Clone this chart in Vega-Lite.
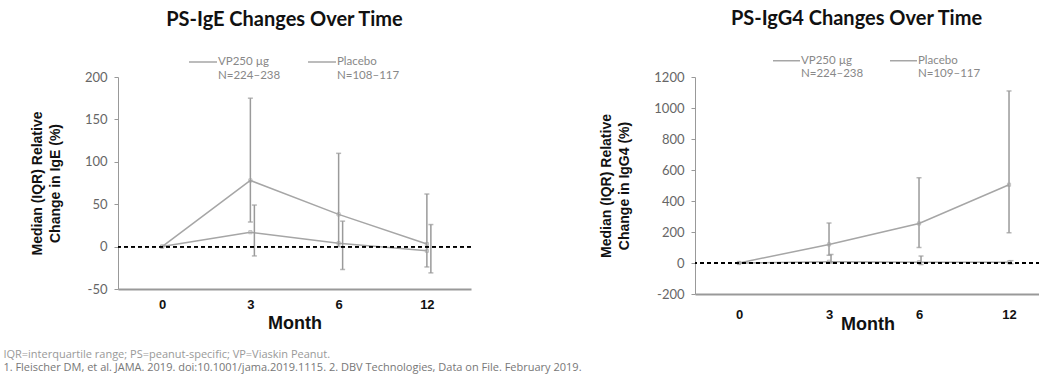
{
  "$schema": "https://vega.github.io/schema/vega-lite/v6.json",
  "padding": {"left": 3, "top": 9, "right": 0, "bottom": 2},
  "background": "white",
  "title": {
    "text": "IQR=interquartile range; PS=peanut-specific; VP=Viaskin Peanut.",
    "subtitle": "1. Fleischer DM, et al. JAMA. 2019. doi:10.1001/jama.2019.1115. 2. DBV Technologies, Data on File. February 2019.",
    "orient": "bottom", "anchor": "start", "dx": -27, "font": "Open Sans", "fontSize": 11, "fontWeight": "normal", "color": "#999",
    "subtitleFont": "Open Sans", "subtitleFontSize": 11, "subtitleColor": "#777", "subtitlePadding": 2, "offset": 16
  },
  "datasets": {
    "ige": [
      {"month": 0, "series": "VP250 µg", "median": 0, "lo": null, "hi": null},
      {"month": 3, "series": "VP250 µg", "median": 78, "lo": 29, "hi": 175},
      {"month": 6, "series": "VP250 µg", "median": 38, "lo": 0, "hi": 110},
      {"month": 12, "series": "VP250 µg", "median": 3, "lo": -24, "hi": 62},
      {"month": 0, "series": "Placebo", "median": 0, "lo": null, "hi": null},
      {"month": 3, "series": "Placebo", "median": 17, "lo": -11, "hi": 49},
      {"month": 6, "series": "Placebo", "median": 4, "lo": -27, "hi": 30},
      {"month": 12, "series": "Placebo", "median": -5, "lo": -31, "hi": 26}
    ],
    "igg4": [
      {"month": 0, "series": "VP250 µg", "median": 0, "lo": null, "hi": null},
      {"month": 3, "series": "VP250 µg", "median": 120, "lo": 50, "hi": 258},
      {"month": 6, "series": "VP250 µg", "median": 255, "lo": 100, "hi": 550},
      {"month": 12, "series": "VP250 µg", "median": 505, "lo": 195, "hi": 1110},
      {"month": 0, "series": "Placebo", "median": 0, "lo": null, "hi": null},
      {"month": 3, "series": "Placebo", "median": 8, "lo": 0, "hi": 55},
      {"month": 6, "series": "Placebo", "median": 5, "lo": -10, "hi": 45},
      {"month": 12, "series": "Placebo", "median": 5, "lo": -5, "hi": 15}
    ]
  },
  "config": {
    "view": {"stroke": null},
    "axis": {"grid": false},
    "axisY": {"labelOverlap": false},
    "title": {"font": "Lato", "fontSize": 20, "fontWeight": "bold", "color": "#111"}
  },
  "resolve": {"scale": {"color": "independent"}, "legend": {"color": "independent"}},
  "spacing": 127,
  "hconcat": [
    {
      "width": 353, "height": 212,
      "title": {"text": "PS-IgE Changes Over Time", "offset": 17, "dx": -10},
      "data": {"name": "ige"},
      "layer": [
        {
          "mark": {"type": "line", "strokeWidth": 1.5},
          "encoding": {
            "x": {"field": "month", "type": "ordinal", "scale": {"type": "point", "padding": 0.5},
              "axis": {"title": "Month", "titleFont": "Liberation Sans", "titleFontSize": 18, "titleFontWeight": "bold", "titleColor": "#111", "titlePadding": 3,
                "labelFont": "Liberation Sans", "labelFontSize": 13, "labelFontWeight": "bold", "labelColor": "#111", "labelAngle": 0, "ticks": false, "labelPadding": 9,
                "domainColor": "#999", "domainWidth": 2}},
            "y": {"field": "median", "type": "quantitative", "scale": {"domain": [-50, 200], "nice": false},
              "axis": {"values": [-50, 0, 50, 100, 150, 200], "tickCount": 10, "labelOverlap": false, "labelExpr": "replace(datum.label, '−', '-')", "title": ["Median (IQR) Relative", "Change in IgE (%)"],
                "titleFont": "Liberation Sans", "titleFontSize": 14, "titleFontWeight": "bold", "titleColor": "#111", "titlePadding": 22, "titleLineHeight": 18,
                "labelFont": "Lato", "labelFontSize": 13, "labelColor": "#666", "tickColor": "#999", "tickSize": 4, "domainColor": "#999", "labelPadding": 7}},
            "color": {"field": "series", "type": "nominal", "scale": {"domain": ["VP250 µg", "Placebo"], "range": ["#a6a6a6", "#a6a6a6"]},
              "legend": {"orient": "none", "legendX": 70, "legendY": -30, "direction": "horizontal", "title": null,
                "symbolType": "stroke", "symbolSize": 784, "symbolStrokeWidth": 1.5, "labelFont": "Lato", "labelFontSize": 11.5, "labelColor": "#888",
                "labelExpr": "datum.label == 'Placebo' ? ['Placebo', 'N=108–117'] : ['VP250 µg', 'N=224–238']", "columnPadding": 24, "labelOffset": 0}}
          }
        },
        {
          "mark": {"type": "point", "shape": "square", "size": 10, "filled": false, "color": "#a6a6a6", "strokeWidth": 1},
          "encoding": {"x": {"field": "month", "type": "ordinal"}, "y": {"field": "median", "type": "quantitative"}}
        },
        {
          "transform": [{"filter": "datum.series == 'VP250 µg'"}],
          "mark": {"type": "rule", "color": "#9a9a9a", "strokeWidth": 1.5},
          "encoding": {"x": {"field": "month", "type": "ordinal"}, "y": {"field": "lo", "type": "quantitative"}, "y2": {"field": "hi"}}
        },
        {
          "transform": [{"filter": "datum.series == 'VP250 µg'"}, {"fold": ["lo", "hi"], "as": ["end", "v"]}],
          "mark": {"type": "tick", "color": "#9a9a9a", "size": 5, "thickness": 1.5},
          "encoding": {"x": {"field": "month", "type": "ordinal"}, "y": {"field": "v", "type": "quantitative"}}
        },
        {
          "transform": [{"filter": "datum.series == 'Placebo'"}],
          "mark": {"type": "rule", "color": "#9a9a9a", "strokeWidth": 1.5, "xOffset": 4},
          "encoding": {"x": {"field": "month", "type": "ordinal"}, "y": {"field": "lo", "type": "quantitative"}, "y2": {"field": "hi"}}
        },
        {
          "transform": [{"filter": "datum.series == 'Placebo'"}, {"fold": ["lo", "hi"], "as": ["end", "v"]}],
          "mark": {"type": "tick", "color": "#9a9a9a", "size": 5, "thickness": 1.5, "xOffset": 4},
          "encoding": {"x": {"field": "month", "type": "ordinal"}, "y": {"field": "v", "type": "quantitative"}}
        },
        {
          "mark": {"type": "rule", "color": "#000", "strokeDash": [4, 3], "strokeWidth": 1.2},
          "encoding": {"y": {"datum": 0}}
        }
      ]
    },
    {
      "width": 345, "height": 217,
      "title": {"text": "PS-IgG4 Changes Over Time", "offset": 17, "dx": -11},
      "data": {"name": "igg4"},
      "layer": [
        {
          "mark": {"type": "line", "strokeWidth": 1.5},
          "encoding": {
            "x": {"field": "month", "type": "ordinal", "scale": {"type": "point", "padding": 0.4167, "align": 0.587},
              "axis": {"title": "Month", "titleFont": "Liberation Sans", "titleFontSize": 18, "titleFontWeight": "bold", "titleColor": "#111", "titlePadding": -6,
                "labelFont": "Liberation Sans", "labelFontSize": 13, "labelFontWeight": "bold", "labelColor": "#111", "labelAngle": 0, "ticks": false, "labelPadding": 14,
                "domainColor": "#999", "domainWidth": 2}},
            "y": {"field": "median", "type": "quantitative", "scale": {"domain": [-200, 1200], "nice": false},
              "axis": {"values": [-200, 0, 200, 400, 600, 800, 1000, 1200], "tickCount": 10, "format": "d", "labelOverlap": false, "labelExpr": "replace(datum.label, '−', '-')", "title": ["Median (IQR) Relative", "Change in IgG4 (%)"],
                "titleFont": "Liberation Sans", "titleFontSize": 14, "titleFontWeight": "bold", "titleColor": "#111", "titlePadding": 22, "titleLineHeight": 18,
                "labelFont": "Lato", "labelFontSize": 13, "labelColor": "#666", "tickColor": "#999", "tickSize": 4, "domainColor": "#999", "labelPadding": 7}},
            "color": {"field": "series", "type": "nominal", "scale": {"domain": ["VP250 µg", "Placebo"], "range": ["#a6a6a6", "#a6a6a6"]},
              "legend": {"orient": "none", "legendX": 77, "legendY": -31, "direction": "horizontal", "title": null,
                "symbolType": "stroke", "symbolSize": 729, "symbolStrokeWidth": 1.5, "labelFont": "Lato", "labelFontSize": 11.5, "labelColor": "#888",
                "labelExpr": "datum.label == 'Placebo' ? ['Placebo', 'N=109–117'] : ['VP250 µg', 'N=224–238']", "columnPadding": 23, "labelOffset": 0}}
          }
        },
        {
          "mark": {"type": "point", "shape": "square", "size": 10, "filled": false, "color": "#a6a6a6", "strokeWidth": 1},
          "encoding": {"x": {"field": "month", "type": "ordinal"}, "y": {"field": "median", "type": "quantitative"}}
        },
        {
          "transform": [{"filter": "datum.series == 'VP250 µg'"}],
          "mark": {"type": "rule", "color": "#9a9a9a", "strokeWidth": 1.5},
          "encoding": {"x": {"field": "month", "type": "ordinal"}, "y": {"field": "lo", "type": "quantitative"}, "y2": {"field": "hi"}}
        },
        {
          "transform": [{"filter": "datum.series == 'VP250 µg'"}, {"fold": ["lo", "hi"], "as": ["end", "v"]}],
          "mark": {"type": "tick", "color": "#9a9a9a", "size": 5, "thickness": 1.5},
          "encoding": {"x": {"field": "month", "type": "ordinal"}, "y": {"field": "v", "type": "quantitative"}}
        },
        {
          "transform": [{"filter": "datum.series == 'Placebo'"}],
          "mark": {"type": "rule", "color": "#9a9a9a", "strokeWidth": 1.5, "xOffset": 2},
          "encoding": {"x": {"field": "month", "type": "ordinal"}, "y": {"field": "lo", "type": "quantitative"}, "y2": {"field": "hi"}}
        },
        {
          "transform": [{"filter": "datum.series == 'Placebo'"}, {"fold": ["lo", "hi"], "as": ["end", "v"]}],
          "mark": {"type": "tick", "color": "#9a9a9a", "size": 5, "thickness": 1.5, "xOffset": 2},
          "encoding": {"x": {"field": "month", "type": "ordinal"}, "y": {"field": "v", "type": "quantitative"}}
        },
        {
          "mark": {"type": "rule", "color": "#000", "strokeDash": [4, 3], "strokeWidth": 1.2},
          "encoding": {"y": {"datum": 0}}
        }
      ]
    }
  ]
}
